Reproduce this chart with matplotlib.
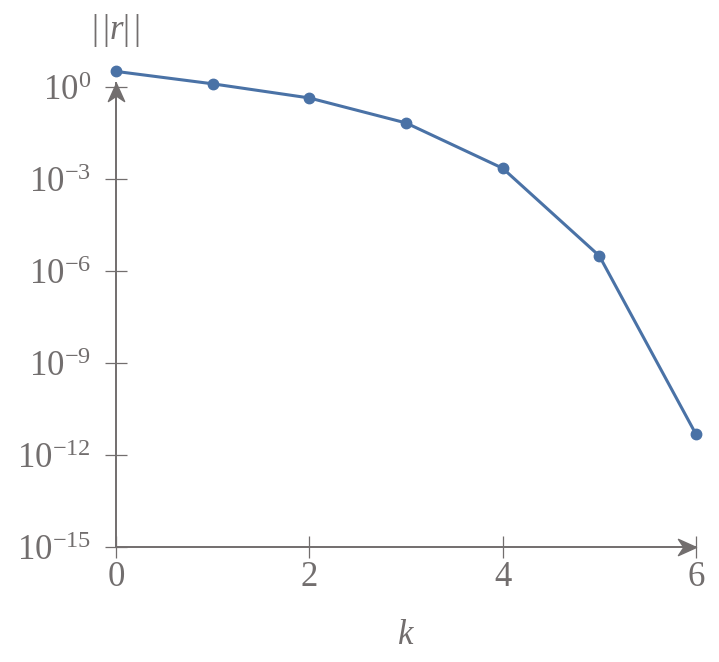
import matplotlib
matplotlib.use("Agg")
import matplotlib.pyplot as plt
from matplotlib.path import Path
import numpy as np

plt.rcParams['font.family'] = 'Liberation Serif'
plt.rcParams['mathtext.fontset'] = 'custom'
plt.rcParams['mathtext.rm'] = 'Liberation Serif'
plt.rcParams['mathtext.it'] = 'Liberation Serif:italic'

# data
k = [0, 1, 2, 3, 4, 5, 6]
res = [3.3, 1.3, 0.45, 0.069, 2.3e-3, 3.2e-6, 4.9e-12]
yticks = [1e-15, 1e-12, 1e-9, 1e-6, 1e-3, 1e0]
xticks = [0, 2, 4, 6]

gray = '#726e6e'
blue = '#4a72a6'

fig = plt.figure(figsize=(7.19, 6.62), dpi=100)
ax = fig.add_axes([0.1613, 0.173, 0.8067, 0.7016])

ax.set_yscale('log')
ax.set_xlim(0, 6)
ax.set_ylim(1e-15, 10**0.14)

ax.plot(k, res, color=blue, lw=2.2, marker='o', ms=7.5, clip_on=False, zorder=5)

for s in ['top', 'right']:
    ax.spines[s].set_visible(False)
for s in ['left', 'bottom']:
    ax.spines[s].set_color(gray)
    ax.spines[s].set_linewidth(1.4)

ax.set_xticks(xticks)
ax.set_yticks(yticks)
ax.set_yticklabels([r'$10^{%d}$' % int(np.log10(v)) for v in yticks])
ax.minorticks_off()
ax.tick_params(axis='both', direction='inout', length=16, width=0.9, color=gray,
               labelcolor=gray, labelsize=25)
ax.tick_params(axis='x', pad=2)
ax.tick_params(axis='y', pad=10)

# stealth arrow heads on the axes
stealth = Path([(0, 0), (-1, 0.45), (-0.7, 0), (-1, -0.45), (0, 0)],
               [Path.MOVETO, Path.LINETO, Path.LINETO, Path.LINETO, Path.CLOSEPOLY])
ax.plot([6], [1e-15], marker=stealth, ms=26, color=gray, clip_on=False, zorder=4)
up = Path([(0, 0), (-0.45, -1), (0, -0.7), (0.45, -1), (0, 0)],
          [Path.MOVETO, Path.LINETO, Path.LINETO, Path.LINETO, Path.CLOSEPOLY])
ax.plot([0], [10**0.14], marker=up, ms=26, color=gray, clip_on=False, zorder=4)

ax.set_xlabel(r'$k$', color=gray, fontsize=25, labelpad=18)
ax.text(0, 10**1.85, r'$|\,|r|\,|$', color=gray, fontsize=25, ha='center', va='center')

fig.savefig('out.png', dpi=100)
